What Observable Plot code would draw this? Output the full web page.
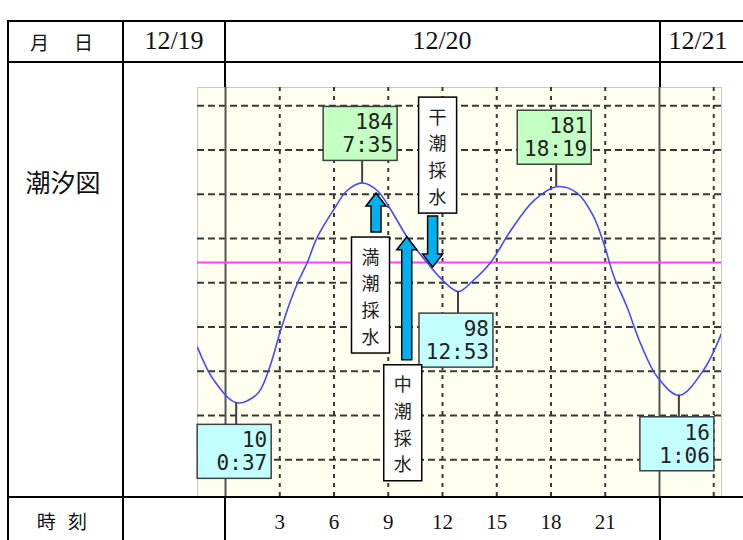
<!DOCTYPE html>
<html lang="ja"><head><meta charset="utf-8">
<script src="https://cdn.jsdelivr.net/npm/d3@7"></script>
<script src="https://cdn.jsdelivr.net/npm/@observablehq/plot@0.6"></script>
<style>
html,body{margin:0;padding:0;background:#fff;}
#page{position:relative;width:743px;height:540px;overflow:hidden;}
#page svg{position:absolute;left:0;top:0;}
.ln{position:absolute;background:#000;}
.tx{position:absolute;white-space:nowrap;color:#111;line-height:1;transform:translate(-50%,-50%);}
.jp{font-family:"Noto Sans CJK JP",sans-serif;}
.dt{font-family:"Liberation Serif",serif;}
</style></head><body><div id="page"></div>
<script>
// ---- data ----
const dayLabels = ["12/19", "12/20", "12/21"];
const rowLabels = ["月　日", "潮汐図", "時 刻"];
const curveHours  = [-1.55, -0.65, 0.617, 1.75, 2.39, 3.04, 3.6, 4.05, 4.52, 5.07, 5.99, 6.73, 7.583, 8.39, 9.13, 10.05, 10.97, 12.07, 12.883, 13.64, 14.66, 15.76, 17.05, 18.317, 19.45, 20.37, 20.92, 21.48, 22.2, 22.95, 23.9, 25.1, 26.44, 27.43];
const curveLevels = [54, 28, 10, 17, 36, 67, 91, 107, 121, 141, 163, 178, 184, 178, 163, 141, 124, 106, 98, 106, 121, 146, 170, 181, 176, 157, 136, 110, 86, 57, 30, 16, 36, 65];
const extremeHours  = [0.617, 7.583, 12.883, 18.317, 25.1];
const extremeTimes  = ["0:37", "7:35", "12:53", "18:19", "1:06"];
const extremeLevels = [10, 184, 98, 181, 16];
const extremeKinds  = ["low", "high", "low", "high", "low"];
const samplingLabels = ["満潮採水", "中潮採水", "干潮採水"];
const samplingHours  = [8.35, 10.05, 11.48];
const samplingLevels = [175.6, 141, 117];
const samplingDirections = ["up", "up", "down"];
const meanLevel = [121];
const dayBoundaryHours = [0, 24];
const gridHours  = [3, 6, 9, 12, 15, 18, 21, 27];
const gridLevels = [-35, 0, 35, 70, 105, 140, 175, 210, 245];
const tickHours  = [3, 6, 9, 12, 15, 18, 21];

// ---- layout (pixels) ----
const samplingLayout = [{len: 39, boxDx: -5.5}, {len: 123, boxDx: -4}, {len: 51, boxDx: 5}];

const curve = curveHours.map((h, i) => ({h, v: curveLevels[i]}));

function extremeBoxes(index, scales) {
  const g = d3.create("svg:g");
  extremeHours.forEach((h, i) => {
    const px = scales.x(h), py = scales.y(extremeLevels[i]);
    const high = extremeKinds[i] === "high";
    const bh = 54, bw = 74;
    const top = high ? py - 22 - bh : py + 22;
    g.append("line").attr("x1", px).attr("x2", px).attr("y1", py).attr("y2", high ? top + bh : top)
      .attr("stroke", "#404040").attr("stroke-width", 2);
    g.append("rect").attr("x", px - 39).attr("y", top).attr("width", bw).attr("height", bh)
      .attr("fill", high ? "#c4ffc4" : "#c4ffff").attr("stroke", "#404040").attr("stroke-width", 1.5);
    [String(extremeLevels[i]), extremeTimes[i]].forEach((t, j) => {
      g.append("text").attr("x", px + 31).attr("y", top + 16 + j * 23)
        .attr("text-anchor", "end").attr("dominant-baseline", "central")
        .attr("font-family", "DejaVu Sans Mono, monospace").attr("font-size", 21).attr("fill", "#222")
        .text(t);
    });
  });
  return g.node();
}

function samplingMarks(index, scales) {
  const g = d3.create("svg:g");
  samplingHours.forEach((h, i) => {
    const cx = scales.x(h), tip = scales.y(samplingLevels[i]);
    const up = samplingDirections[i] === "up";
    const L = samplingLayout[i];
    const s = up ? 1 : -1;
    const headLen = 13, headHalf = 10, shaftHalf = 5;
    const base = tip + s * headLen, tail = tip + s * L.len;
    const pts = [[cx, tip], [cx + headHalf, base], [cx + shaftHalf, base], [cx + shaftHalf, tail],
                 [cx - shaftHalf, tail], [cx - shaftHalf, base], [cx - headHalf, base]];
    g.append("polygon").attr("points", pts.map(p => p.join(",")).join(" "))
      .attr("fill", "#00b0f0").attr("stroke", "#000").attr("stroke-width", 1.5);
    const bw = 38, bh = 116;
    const bx = cx + L.boxDx - bw / 2;
    const by = up ? tip + L.len + 5 : tip - L.len - 3 - bh;
    g.append("rect").attr("x", bx).attr("y", by).attr("width", bw).attr("height", bh)
      .attr("fill", "#fff").attr("stroke", "#000").attr("stroke-width", 1.5);
    const t = g.append("text")
      .attr("text-anchor", "middle")
      .attr("font-family", "Noto Sans CJK JP, sans-serif").attr("font-size", 18).attr("fill", "#222");
    [...samplingLabels[i]].forEach((c, j) => {
      t.append("tspan").attr("x", bx + bw / 2).attr("y", by + 20 + j * 26.7).attr("dy", "0.36em").text(c);
    });
  });
  return g.node();
}

const plot = Plot.plot({
  width: 743, height: 540,
  marginLeft: 197, marginRight: 22, marginTop: 87, marginBottom: 44,
  style: {background: "transparent", fontFamily: "Liberation Serif, serif", fontSize: "21px", color: "#111", overflow: "visible"},
  x: {domain: [-1.55, 27.43], ticks: tickHours, tickSize: 0, tickPadding: 18, tickFormat: d => String(d), label: null},
  y: {domain: [-64.1, 259.5], axis: null},
  marks: [
    Plot.frame({fill: "#fffff0", stroke: "#c8c8c8"}),
    Plot.ruleY(gridLevels, {stroke: "#383838", strokeWidth: 2, strokeDasharray: "7,4"}),
    Plot.ruleX(gridHours, {stroke: "#383838", strokeWidth: 2, strokeDasharray: "4,5"}),
    Plot.ruleX(dayBoundaryHours, {stroke: "#555", strokeWidth: 2}),
    Plot.ruleY(meanLevel, {stroke: "#ff44ff", strokeWidth: 2}),
    Plot.line(curve, {x: "h", y: "v", stroke: "#4848ff", strokeWidth: 1.6, curve: "catmull-rom", clip: true}),
    extremeBoxes,
    samplingMarks
  ]
});

const page = document.getElementById("page");
page.appendChild(plot);

// ---- table frame (HTML) ----
function line(x, y, w, h) {
  const d = document.createElement("div");
  d.className = "ln";
  Object.assign(d.style, {left: x + "px", top: y + "px", width: w + "px", height: h + "px"});
  page.appendChild(d);
}
[20, 61, 496].forEach(y => line(8, y, 735, 2));
line(7, 20, 2, 520);
line(122, 20, 2, 520);
[224, 659].forEach(x => { line(x, 20, 2, 67); line(x, 496, 2, 44); });

function label(text, cls, x, y, size, spacing) {
  const d = document.createElement("div");
  d.className = "tx " + cls;
  d.textContent = text;
  Object.assign(d.style, {left: x + "px", top: y + "px", fontSize: size + "px", letterSpacing: (spacing || 0) + "px"});
  page.appendChild(d);
}
label(rowLabels[0], "jp", 63, 41, 19, 3);
label(rowLabels[1], "jp", 63, 181, 25);
label(rowLabels[2], "jp", 64, 520, 19, 4);
label(dayLabels[0], "dt", 174, 41, 26);
label(dayLabels[1], "dt", 442, 41, 26);
label(dayLabels[2], "dt", 698, 41, 26);
</script>
</body></html>
